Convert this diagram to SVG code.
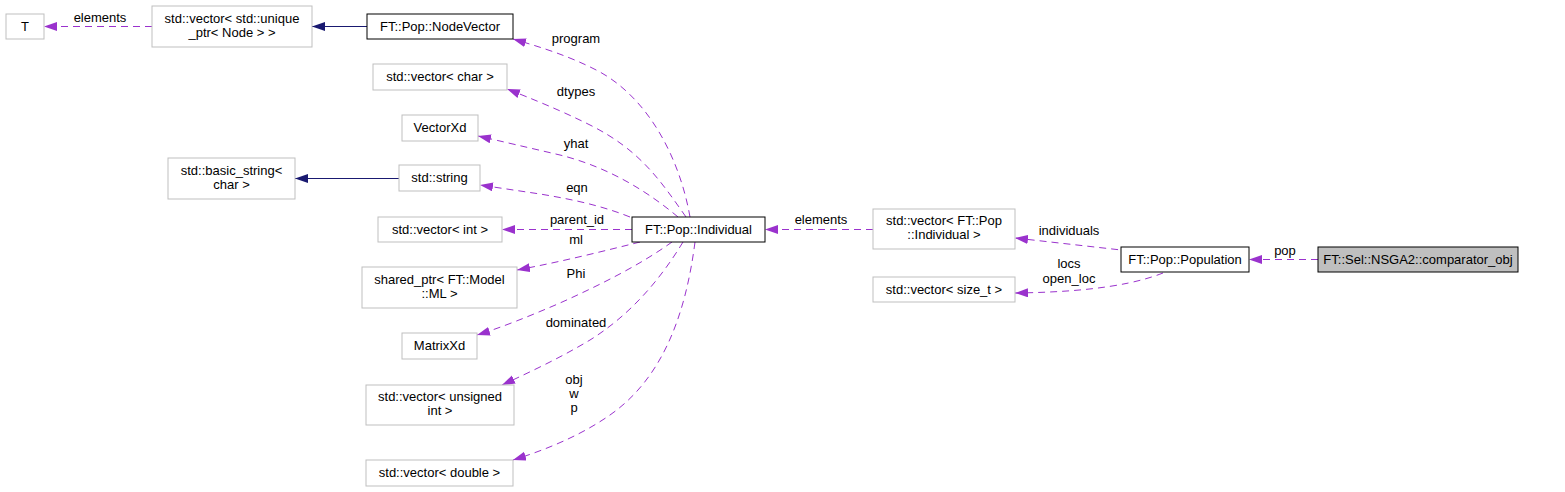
<svg xmlns="http://www.w3.org/2000/svg" width="1565" height="492" viewBox="0 0 1565 492">
<defs>
<style>
text{font-family:"Liberation Sans",Arial,sans-serif;font-size:13px;fill:#000;text-anchor:middle}
.g{fill:#fff;stroke:#bfbfbf;stroke-width:1}
.b{fill:#fff;stroke:#000;stroke-width:1}
.s{fill:#bfbfbf;stroke:#000;stroke-width:1}
.d{fill:none;stroke:#9a32cd;stroke-width:1;stroke-dasharray:7,5;marker-end:url(#ap)}
.n{fill:none;stroke:#191970;stroke-width:1;marker-end:url(#an)}
</style>
<marker id="ap" markerUnits="userSpaceOnUse" markerWidth="14" markerHeight="10" refX="13" refY="4.5" orient="auto"><path d="M0,0 L13,4.5 L0,9 z" fill="#9a32cd"/></marker>
<marker id="an" markerUnits="userSpaceOnUse" markerWidth="14" markerHeight="10" refX="13" refY="4.5" orient="auto"><path d="M0,0 L13,4.5 L0,9 z" fill="#191970"/></marker>
</defs>
<rect width="1565" height="492" fill="#fff"/>
<g id="edges">
<path class="d" d="M152,26.5 L44,26.5"/>
<text x="100" y="22">elements</text>
<path class="n" d="M367,26.5 L312,26.5"/>
<path class="n" d="M399,178.5 L295,178.5"/>
<path class="d" d="M690,217 C680,160 650,100 600,72 C570,56 540,47 513,39"/>
<text x="576" y="43">program</text>
<path class="d" d="M686,217 C660,180 640,150 590,125 C560,110 530,98 507,89"/>
<text x="576" y="96">dtypes</text>
<path class="d" d="M678,217 C640,185 600,165 560,155 C530,148 500,141 478,136"/>
<text x="576" y="148">yhat</text>
<path class="d" d="M630,217 C600,205 570,199 540,194 C520,191 500,188 480,185"/>
<text x="577" y="192">eqn</text>
<path class="d" d="M632,229.5 L502,229.5"/>
<text x="577" y="224">parent_id</text>
<path class="d" d="M640,242 C600,252 560,262 517,270"/>
<text x="576" y="244">ml</text>
<path class="d" d="M672,242 C640,265 600,285 560,303 C530,316 500,328 477,335"/>
<text x="576" y="278">Phi</text>
<path class="d" d="M683,242 C660,280 630,315 590,340 C560,358 530,372 502,385"/>
<text x="576" y="327">dominated</text>
<path class="d" d="M695,242 C685,320 660,380 610,415 C580,436 545,450 513,460"/>
<text x="574" y="384">obj</text>
<text x="574" y="398">w</text>
<text x="574" y="412">p</text>
<path class="d" d="M873,229.5 L765,229.5"/>
<text x="821" y="224">elements</text>
<path class="d" d="M1130,251 L1015,238"/>
<text x="1069" y="235">individuals</text>
<path class="d" d="M1163,273 C1140,282 1100,292 1015,293"/>
<text x="1069" y="268">locs</text>
<text x="1069" y="283">open_loc</text>
<path class="d" d="M1318,259.5 L1249,259.5"/>
<text x="1285" y="255">pop</text>
</g>
<g id="n_T"><rect class="g" x="6" y="14" width="38" height="25"/><text x="25" y="31">T</text></g>
<g id="n_uptr"><rect class="g" x="152" y="6" width="160" height="41"/><text x="232" y="22.5">std::vector&lt; std::unique</text><text x="232" y="36.5">_ptr&lt; Node &gt; &gt;</text></g>
<g id="n_nodevector"><rect class="b" x="367" y="14" width="146" height="25"/><text x="440" y="31">FT::Pop::NodeVector</text></g>
<g id="n_vchar"><rect class="g" x="373" y="64" width="134" height="26"/><text x="440" y="81">std::vector&lt; char &gt;</text></g>
<g id="n_vectorxd"><rect class="g" x="402" y="115" width="76" height="26"/><text x="440" y="132">VectorXd</text></g>
<g id="n_basicstring"><rect class="g" x="168" y="158" width="127" height="41"/><text x="231.5" y="174.5">std::basic_string&lt;</text><text x="231.5" y="188.5">char &gt;</text></g>
<g id="n_string"><rect class="g" x="399" y="165" width="81" height="26"/><text x="439.5" y="182">std::string</text></g>
<g id="n_vint"><rect class="g" x="378" y="217" width="124" height="25"/><text x="440" y="234">std::vector&lt; int &gt;</text></g>
<g id="n_sharedptr"><rect class="g" x="362" y="267" width="155" height="41"/><text x="439.5" y="283.5">shared_ptr&lt; FT::Model</text><text x="439.5" y="297.5">::ML &gt;</text></g>
<g id="n_matrixxd"><rect class="g" x="402" y="333" width="75" height="26"/><text x="439.5" y="350">MatrixXd</text></g>
<g id="n_vuint"><rect class="g" x="366" y="385" width="148" height="40"/><text x="440" y="401">std::vector&lt; unsigned</text><text x="440" y="415">int &gt;</text></g>
<g id="n_vdouble"><rect class="g" x="366" y="460" width="147" height="26"/><text x="439.5" y="477">std::vector&lt; double &gt;</text></g>
<g id="n_individual"><rect class="b" x="632" y="217" width="133" height="25"/><text x="698.5" y="234">FT::Pop::Individual</text></g>
<g id="n_vindividual"><rect class="g" x="873" y="209" width="142" height="40"/><text x="944" y="225">std::vector&lt; FT::Pop</text><text x="944" y="239">::Individual &gt;</text></g>
<g id="n_vsizet"><rect class="g" x="873" y="277" width="142" height="25"/><text x="944" y="294">std::vector&lt; size_t &gt;</text></g>
<g id="n_population"><rect class="b" x="1121" y="247" width="128" height="25"/><text x="1185" y="264">FT::Pop::Population</text></g>
<g id="n_comparator"><rect class="s" x="1318" y="247" width="200" height="25"/><text x="1418" y="264">FT::Sel::NSGA2::comparator_obj</text></g>
</svg>
